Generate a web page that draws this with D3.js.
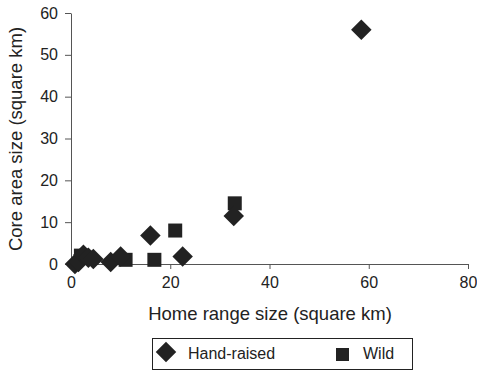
<!DOCTYPE html>
<html>
<head>
<meta charset="utf-8">
<script src="https://cdn.jsdelivr.net/npm/d3@7"></script>
<style>
  body { margin: 0; background: #fff; }
  svg { font-family: "Liberation Sans", Arial, sans-serif; }
</style>
</head>
<body>
<div id="chart"></div>
<script>
// Data
var handRaised = [
  {x: 0.8, y: 0}, {x: 1.5, y: 0.5}, {x: 2.5, y: 2.2}, {x: 3.5, y: 1.5},
  {x: 4.5, y: 1.2}, {x: 8, y: 0.5}, {x: 10, y: 1.8}, {x: 16, y: 6.8},
  {x: 22.5, y: 1.8}, {x: 32.8, y: 11.5}, {x: 58.5, y: 56}
];
var wild = [
  {x: 2, y: 2}, {x: 3, y: 1.5}, {x: 11, y: 1}, {x: 16.8, y: 1},
  {x: 21, y: 8}, {x: 33, y: 14.5}
];
var xTicks = [0, 20, 40, 60, 80];
var yTicks = [0, 10, 20, 30, 40, 50, 60];

var width = 477, height = 372;
var margin = {top: 13, right: 9, bottom: 108, left: 71};

var svg = d3.select("#chart").append("svg")
  .attr("width", width)
  .attr("height", height);

var x = d3.scaleLinear().domain([0, 80]).range([margin.left, width - margin.right]);
var y = d3.scaleLinear().domain([0, 60]).range([height - margin.bottom, margin.top]);

var ink = "#222";

// x axis
var xAxis = svg.append("g")
  .attr("transform", "translate(0," + y(0) + ")")
  .call(d3.axisBottom(x).tickValues(xTicks).tickSize(5).tickSizeOuter(0).tickPadding(8));
// y axis
var yAxis = svg.append("g")
  .attr("transform", "translate(" + x(0) + ",0)")
  .call(d3.axisLeft(y).tickValues(yTicks).tickSize(6).tickSizeOuter(0).tickPadding(7));

[xAxis, yAxis].forEach(function(a) {
  a.select(".domain").attr("stroke", "#555");
  a.selectAll(".tick line").attr("stroke", "#555");
  a.selectAll(".tick text").attr("fill", ink).style("font-size", "16px");
});

// axis titles
svg.append("text")
  .attr("x", 270).attr("y", 320)
  .attr("text-anchor", "middle")
  .style("font-size", "18.5px").attr("fill", ink)
  .text("Home range size (square km)");

svg.append("text")
  .attr("transform", "translate(22," + 139 + ") rotate(-90)")
  .attr("text-anchor", "middle")
  .style("font-size", "18.5px").attr("fill", ink)
  .text("Core area size (square km)");

var diamond = d3.symbol().type(d3.symbolSquare).size(210);

// Wild squares
svg.selectAll(".wild")
  .data(wild)
  .enter().append("rect")
  .attr("class", "wild")
  .attr("x", function(d) { return x(d.x) - 7; })
  .attr("y", function(d) { return y(d.y) - 7; })
  .attr("width", 14).attr("height", 14)
  .attr("fill", ink);

// Hand-raised diamonds
svg.selectAll(".hand")
  .data(handRaised)
  .enter().append("path")
  .attr("class", "hand")
  .attr("d", diamond)
  .attr("transform", function(d) { return "translate(" + x(d.x) + "," + y(d.y) + ") rotate(45)"; })
  .attr("fill", ink);

// Legend
var legend = svg.append("g");
legend.append("rect")
  .attr("x", 152.5).attr("y", 338.5)
  .attr("width", 260).attr("height", 31)
  .attr("fill", "none").attr("stroke", ink);
legend.append("path")
  .attr("d", diamond)
  .attr("transform", "translate(166,352) rotate(45)")
  .attr("fill", ink);
legend.append("text")
  .attr("x", 188).attr("y", 359)
  .style("font-size", "16px").attr("fill", ink)
  .text("Hand-raised");
legend.append("rect")
  .attr("x", 336).attr("y", 348)
  .attr("width", 13).attr("height", 13)
  .attr("fill", ink);
legend.append("text")
  .attr("x", 363).attr("y", 359)
  .style("font-size", "16px").attr("fill", ink)
  .text("Wild");
</script>
</body>
</html>
